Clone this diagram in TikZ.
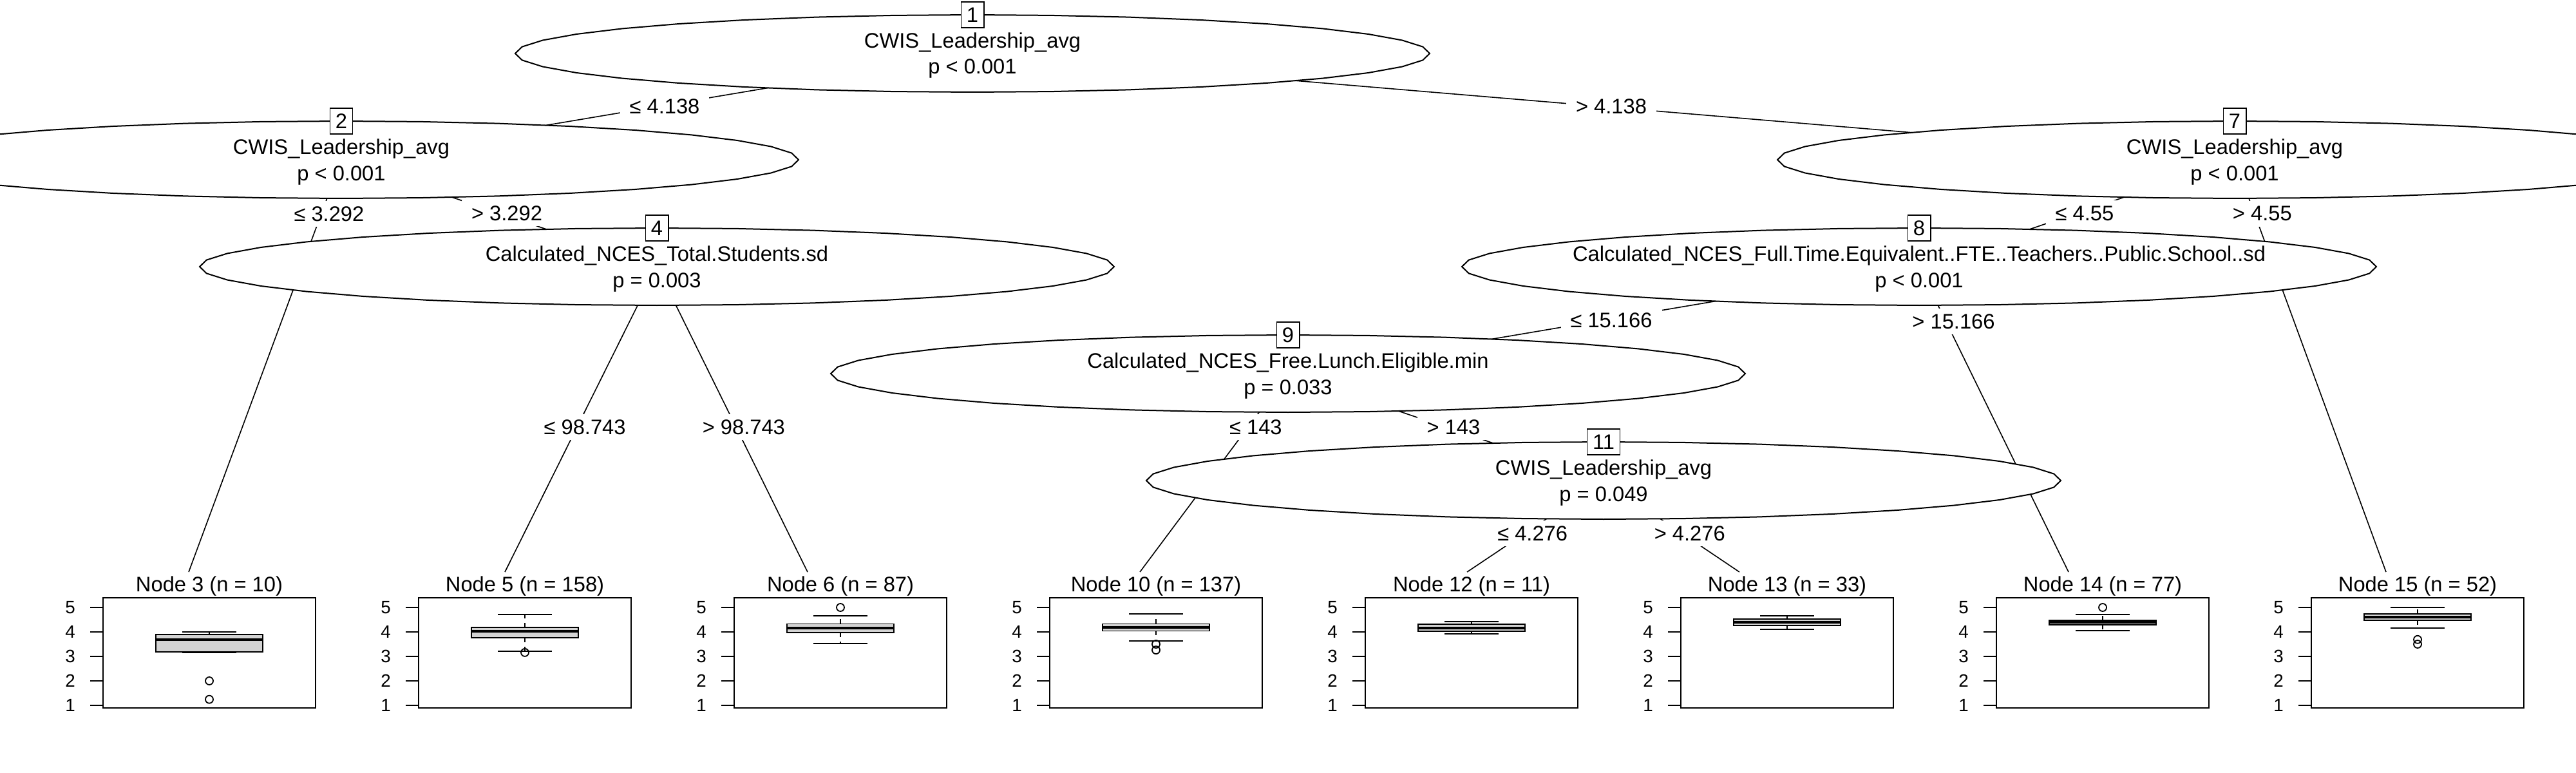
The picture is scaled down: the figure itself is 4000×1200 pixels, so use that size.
\documentclass[tikz,border=0pt]{standalone}
\usepackage{fontspec}
\setmainfont{Liberation Sans}
\definecolor{boxgrey}{HTML}{D3D3D3}
\tikzset{
  edgeln/.style={line width=0.16mm},
  innershape/.style={draw, line width=0.2mm, fill=white},
  nlab/.style={draw, fill=white, line width=0.18mm, inner xsep=0.85mm, inner ysep=0.85mm},
  elab/.style={fill=white, inner xsep=1.5mm, inner ysep=0.85mm, xshift=1.2mm},
  panelframe/.style={draw, line width=0.18mm},
  tickln/.style={line width=0.18mm},
  ticklab/.style={font=\fontsize{7.9}{9}\selectfont},
  whisk/.style={line width=0.18mm, dash pattern=on 0.7mm off 0.7mm},
  capln/.style={line width=0.2mm},
  boxf/.style={draw, fill=boxgrey, line width=0.18mm},
  medianln/.style={line width=0.4mm},
  outl/.style={line width=0.18mm}
}
\newcommand\innerellipse[1]{%
  \draw[innershape, shift={(#1)}] plot[variable=\t, domain=0:360, samples=37] ({710*cos(\t)},{60*sin(\t)}) -- cycle;}
\newcommand\innertext[4]{%
  \path (#1) ++(0,-60) node[nlab] (#1id) {#2};
  \path (#1) ++(0,-8.5) node[anchor=base] (#1a) {#3};
  \path (#1) ++(0,32) node[anchor=base] (#1b) {#4};}
\newcommand\termpanel[8]{%
  \pgfmathsetmacro\pL{#2}%
  \pgfmathsetmacro\pR{#2+330}%
  \pgfmathsetmacro\pC{#2+165}%
  \node[anchor=base] (title#1) at (\pC,918) {Node #1 (n = #3)};
  \draw[whisk] (\pC,{1133-38*#7}) -- (\pC,{1133-38*#8});
  \draw[whisk] (\pC,{1133-38*#5}) -- (\pC,{1133-38*#4});
  \draw[capln] ({\pC-42},{1133-38*#8}) -- ({\pC+42},{1133-38*#8});
  \draw[capln] ({\pC-42},{1133-38*#4}) -- ({\pC+42},{1133-38*#4});
  \draw[boxf] ({\pC-83},{1133-38*#7}) rectangle ({\pC+83},{1133-38*#5});
  \draw[medianln] ({\pC-83},{1133-38*#6}) -- ({\pC+83},{1133-38*#6});
  \draw[panelframe] (\pL,928) rectangle (\pR,1099);
  \foreach \v in {1,...,5}{%
    \draw[tickln] (\pL,{1133-38*\v}) -- ({\pL-20},{1133-38*\v});
    \node[ticklab] (tk#1v\v) at ({\pL-51},{1133-38*\v}) {\v};}}
\newcommand\outlier[2]{\draw[outl] (#1,{1133-38*#2}) circle[radius=6];}
\begin{document}
\begin{tikzpicture}[x=0.1mm, y=-0.1mm, font=\fontsize{9.3}{11}\selectfont]
\useasboundingbox (0,0) rectangle (4000,1200);
\clip (0,0) rectangle (4000,1200);
% inner node centres
\coordinate (n1) at (1510,83);
\coordinate (n2) at (530,248);
\coordinate (n7) at (3470,248);
\coordinate (n4) at (1020,414);
\coordinate (n8) at (2980,414);
\coordinate (n9) at (2000,580);
\coordinate (n11) at (2490,746);
% terminal connection points
\coordinate (t3) at (293,888);
\coordinate (t5) at (784,888);
\coordinate (t6) at (1254,888);
\coordinate (t10) at (1770,888);
\coordinate (t12) at (2278,888);
\coordinate (t13) at (2701,888);
\coordinate (t14) at (3212,888);
\coordinate (t15) at (3705,888);
% edges
\draw[edgeln] (n1) -- (n2);
\draw[edgeln] (n1) -- (n7);
\draw[edgeln] (n2) -- (t3);
\draw[edgeln] (n2) -- (n4);
\draw[edgeln] (n4) -- (t5);
\draw[edgeln] (n4) -- (t6);
\draw[edgeln] (n7) -- (n8);
\draw[edgeln] (n7) -- (t15);
\draw[edgeln] (n8) -- (n9);
\draw[edgeln] (n8) -- (t14);
\draw[edgeln] (n9) -- (t10);
\draw[edgeln] (n9) -- (n11);
\draw[edgeln] (n11) -- (t12);
\draw[edgeln] (n11) -- (t13);
% inner nodes
\innerellipse{n1}
\innertext{n1}{1}{CWIS\_Leadership\_avg}{p < 0.001}
\innerellipse{n2}
\innertext{n2}{2}{CWIS\_Leadership\_avg}{p < 0.001}
\innerellipse{n7}
\innertext{n7}{7}{CWIS\_Leadership\_avg}{p < 0.001}
\innerellipse{n4}
\innertext{n4}{4}{Calculated\_NCES\_Total.Students.sd}{p = 0.003}
\innerellipse{n8}
\innertext{n8}{8}{Calculated\_NCES\_Full.Time.Equivalent..FTE..Teachers..Public.School..sd}{p < 0.001}
\innerellipse{n9}
\innertext{n9}{9}{Calculated\_NCES\_Free.Lunch.Eligible.min}{p = 0.033}
\innerellipse{n11}
\innertext{n11}{11}{CWIS\_Leadership\_avg}{p = 0.049}
% edge labels
\path (n1) -- (n2) node[elab, pos=0.5] (e1) {≤ 4.138};
\path (n1) -- (n7) node[elab, pos=0.5] (e2) {> 4.138};
\path (n2) -- (t3) node[elab, pos=0.131] (e3) {≤ 3.292};
\path (n2) -- (n4) node[elab, pos=0.5] (e4) {> 3.292};
\path (n4) -- (t5) node[elab, pos=0.525] (e5) {≤ 98.743};
\path (n4) -- (t6) node[elab, pos=0.525] (e6) {> 98.743};
\path (n7) -- (n8) node[elab, pos=0.5] (e7) {≤ 4.55};
\path (n7) -- (t15) node[elab, pos=0.131] (e8) {> 4.55};
\path (n8) -- (n9) node[elab, pos=0.5] (e9) {≤ 15.166};
\path (n8) -- (t14) node[elab, pos=0.179] (e10) {> 15.166};
\path (n9) -- (t10) node[elab, pos=0.27] (e11) {≤ 143};
\path (n9) -- (n11) node[elab, pos=0.5] (e12) {> 143};
\path (n11) -- (t12) node[elab, pos=0.577] (e13) {≤ 4.276};
\path (n11) -- (t13) node[elab, pos=0.577] (e14) {> 4.276};
% terminal panels: id, left, n, lower whisker, q1, median, q3, upper whisker
\termpanel{3}{160}{10}{3.17}{3.18}{3.68}{3.89}{4.0}
\outlier{325}{2.0}
\outlier{325}{1.245}
\termpanel{5}{650}{158}{3.22}{3.76}{4.03}{4.19}{4.72}
\outlier{815}{3.16}
\termpanel{6}{1140}{87}{3.52}{3.98}{4.17}{4.33}{4.65}
\outlier{1305}{5.0}
\termpanel{10}{1630}{137}{3.62}{4.04}{4.18}{4.33}{4.745}
\outlier{1795}{3.50}
\outlier{1795}{3.26}
\termpanel{12}{2120}{11}{3.93}{4.03}{4.17}{4.31}{4.42}
\termpanel{13}{2610}{33}{4.11}{4.26}{4.39}{4.52}{4.65}
\termpanel{14}{3100}{77}{4.06}{4.29}{4.39}{4.48}{4.70}
\outlier{3265}{5.0}
\termpanel{15}{3589}{52}{4.16}{4.48}{4.61}{4.745}{5.01}
\outlier{3754}{3.69}
\outlier{3754}{3.50}
\end{tikzpicture}
\end{document}
